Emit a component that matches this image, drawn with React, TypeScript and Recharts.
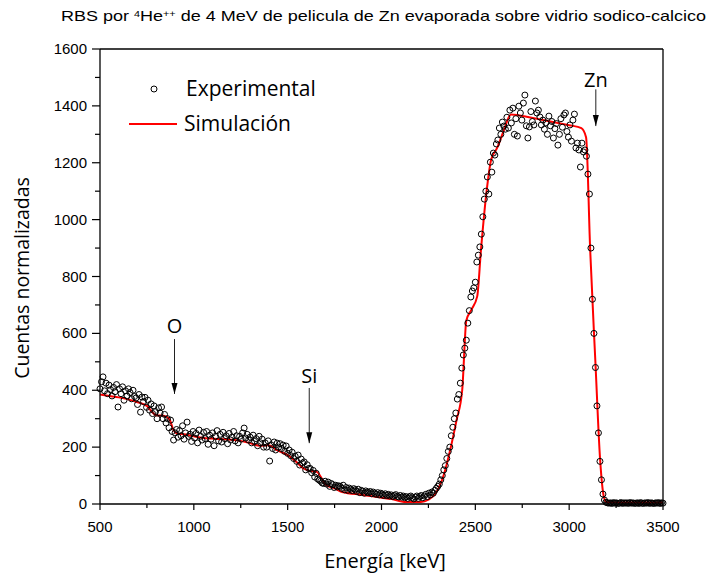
import {
  ComposedChart,
  Scatter,
  Line,
  XAxis,
  YAxis,
  ReferenceLine,
} from 'recharts'

// canal -> energía: primer canal 500 keV, 8 keV por canal
const E_START = 500
const KEV_PER_CH = 8

// cuentas experimentales normalizadas (una fila = 10 canales = 80 keV)
const cuentasExp = [
  405, 430, 447, 398, 425, 388, 418, 402, 380, 410, // 500
  395, 420, 341, 405, 388, 412, 365, 398, 380, 405, // 580
  392, 370, 400, 378, 373, 350, 385, 323, 376, 360, // 660
  375, 340, 365, 330, 352, 318, 345, 325, 300, 338, // 740
  320, 341, 300, 315, 285, 300, 268, 295, 255, 225, // 820
  250, 262, 235, 258, 240, 275, 228, 250, 288, 238, // 900
  245, 220, 255, 232, 248, 215, 260, 238, 225, 252, // 980
  230, 255, 210, 242, 228, 250, 205, 238, 258, 222, // 1060
  245, 218, 252, 230, 240, 212, 248, 225, 235, 255, // 1140
  222, 240, 215, 238, 228, 250, 267, 232, 245, 225, // 1220
  235, 215, 242, 220, 230, 205, 238, 215, 228, 200, // 1300
  215, 200, 222, 151, 208, 195, 218, 190, 214, 200, // 1380
  212, 195, 207, 185, 204, 178, 190, 170, 182, 160, // 1460
  168, 150, 172, 137, 158, 144, 148, 120, 138, 125, // 1540
  125, 110, 118, 95, 108, 88, 84, 80, 74, 72, // 1620
  80, 70, 77, 62, 72, 68, 58, 66, 60, 64, // 1700
  62, 55, 66, 50, 58, 48, 56, 52, 47, 54, // 1780
  50, 44, 52, 40, 48, 45, 38, 46, 42, 40, // 1860
  44, 36, 42, 38, 34, 40, 32, 38, 35, 30, // 1940
  36, 30, 34, 28, 32, 26, 30, 33, 27, 25, // 2020
  30, 24, 28, 22, 26, 20, 25, 28, 22, 18, // 2100
  24, 28, 20, 26, 30, 22, 28, 34, 26, 38, // 2180
  32, 42, 38, 48, 55, 62, 70, 85, 100, 120, // 2260
  135, 160, 185, 200, 240, 270, 300, 320, 369, 385, // 2340
  425, 478, 524, 548, 576, 636, 680, 728, 749, 760, // 2420
  780, 851, 875, 904, 949, 1010, 1072, 1100, 1150, 1090, // 2500
  1202, 1167, 1234, 1227, 1266, 1280, 1322, 1300, 1343, 1329, // 2580
  1318, 1360, 1322, 1385, 1340, 1392, 1300, 1355, 1294, 1399, // 2660
  1375, 1350, 1410, 1438, 1330, 1287, 1326, 1380, 1345, 1333, // 2740
  1417, 1375, 1385, 1361, 1333, 1350, 1318, 1340, 1300, 1364, // 2820
  1330, 1345, 1287, 1320, 1338, 1262, 1300, 1355, 1325, 1368, // 2900
  1375, 1310, 1290, 1333, 1276, 1350, 1371, 1252, 1269, 1245, // 2980
  1185, 1269, 1238, 1245, 1223, 1160, 1090, 900, 720, 600, // 3060
  480, 345, 250, 150, 85, 35, 14, 6, 4, 3, // 3140
  4, 2, 5, 3, 4, 2, 3, 5, 2, 4, // 3220
  3, 4, 2, 5, 3, 4, 2, 3, 4, 2, // 3300
  5, 3, 2, 4, 3, 5, 2, 4, 3, 2, // 3380
  4, 3, 5, 2, 4, 3, // 3460
]

// simulación [keV, cuentas]
const simulacion: [number, number][] = [
  [500, 385], [550, 380], [600, 375], [650, 368], [700, 358], [750, 345],
  [780, 322], [800, 312], [840, 310], [870, 298], [890, 262], [910, 248],
  [950, 245], [1000, 238], [1050, 232], [1100, 230], [1150, 228], [1200, 226],
  [1250, 222], [1300, 214], [1350, 205], [1400, 207], [1440, 190], [1500, 172],
  [1550, 146], [1580, 127], [1610, 118], [1655, 113], [1705, 67], [1750, 55],
  [1790, 42], [1900, 32], [2000, 22], [2050, 18], [2100, 10], [2130, 7],
  [2210, 7], [2250, 15], [2290, 39], [2335, 109], [2366, 190], [2400, 295],
  [2430, 400], [2452, 645], [2478, 682], [2510, 730], [2530, 893], [2560, 1100],
  [2584, 1210], [2616, 1252], [2650, 1310], [2690, 1370], [2800, 1358],
  [2900, 1345], [3000, 1332], [3065, 1322], [3090, 1290], [3112, 893],
  [3140, 496], [3165, 155], [3185, 25], [3200, 6], [3350, 5], [3500, 5],
]

// flechas: elemento, energía, altura del texto, inicio y punta de la flecha
const anotaciones = [
  { label: 'O', e: 897, labelY: 601, top: 580, tip: 387 },
  { label: 'Si', e: 1615, labelY: 425, top: 408, tip: 214 },
  { label: 'Zn', e: 3142, labelY: 1466, top: 1458, tip: 1329 },
]

const xTicks = [500, 750, 1000, 1250, 1500, 1750, 2000, 2250, 2500, 2750, 3000, 3250, 3500]
const yTicks = [0, 100, 200, 300, 400, 500, 600, 700, 800, 900, 1000, 1100, 1200, 1300, 1400, 1500, 1600]

const expData = cuentasExp.map((c, i) => ({ e: E_START + i * KEV_PER_CH, c }))
const simData = simulacion.map(([e, c]) => ({ e, c }))
const tipData = anotaciones.map((a) => ({ e: a.e, c: a.tip }))
const labelData = anotaciones.map((a) => ({ e: a.e, c: a.labelY, label: a.label }))

const TICK_FONT = '"Liberation Sans", Arial, sans-serif'
const LABEL_FONT = '"Open Sans", "Noto Sans", sans-serif'

const BottomTick = (props: any) => {
  const { x, y, payload } = props
  const major = payload.value % 500 === 0
  return (
    <g>
      <line x1={x} x2={x} y1={y} y2={y + (major ? 6 : 4)} stroke="#000" strokeWidth={1.2} />
      {major && (
        <text x={x} y={y + 28} textAnchor="middle" fontSize={15} fontFamily={TICK_FONT} fill="#000">
          {payload.value}
        </text>
      )}
    </g>
  )
}

const TopTick = (props: any) => {
  const { x, y, payload } = props
  const major = payload.value % 500 === 0
  return <line x1={x} x2={x} y1={y} y2={y + (major ? 6 : 5)} stroke="#000" strokeWidth={1.2} />
}

const LeftTick = (props: any) => {
  const { x, y, payload } = props
  const major = payload.value % 200 === 0
  return (
    <g>
      <line x1={x - (major ? 8 : 5)} x2={x} y1={y} y2={y} stroke="#000" strokeWidth={1.2} />
      {major && (
        <text x={x - 13} y={y + 5} textAnchor="end" fontSize={15} fontFamily={TICK_FONT} fill="#000">
          {payload.value}
        </text>
      )}
    </g>
  )
}

const RightTick = (props: any) => {
  const { x, y, payload } = props
  const major = payload.value % 200 === 0
  return <line x1={x - (major ? 8 : 4)} x2={x} y1={y} y2={y} stroke="#000" strokeWidth={1.2} />
}

const Circulo = (props: any) => (
  <circle cx={props.cx} cy={props.cy} r={3} fill="none" stroke="#000" strokeWidth={1} />
)

const Punta = (props: any) => {
  const { cx, cy } = props
  return <polygon points={`${cx - 3},${cy - 11} ${cx + 3},${cy - 11} ${cx},${cy}`} fill="#000" />
}

const Etiqueta = (props: any) => (
  <text x={props.cx} y={props.cy} textAnchor="middle" fontSize={20} fontFamily={LABEL_FONT} fill="#000">
    {props.payload.label}
  </text>
)

const axisLine = { stroke: '#000', strokeWidth: 1.3 }

export default function App() {
  return (
    <div style={{ position: 'relative', width: 700, height: 569 }}>
      <ComposedChart width={700} height={569} margin={{ top: 40, right: 44, bottom: 33, left: 32 }}>
        <XAxis
          xAxisId={0}
          type="number"
          dataKey="e"
          domain={[500, 3500]}
          ticks={xTicks}
          interval={0}
          height={40}
          tickSize={0}
          tickMargin={0}
          tickLine={false}
          axisLine={axisLine}
          tick={<BottomTick />}
        />
        <XAxis
          xAxisId="top"
          orientation="top"
          type="number"
          dataKey="e"
          domain={[500, 3500]}
          ticks={xTicks}
          interval={0}
          height={1}
          tickSize={0}
          tickMargin={0}
          tickLine={false}
          axisLine={axisLine}
          tick={<TopTick />}
        />
        <YAxis
          yAxisId={0}
          type="number"
          dataKey="c"
          domain={[0, 1600]}
          ticks={yTicks}
          interval={0}
          width={60}
          tickSize={0}
          tickMargin={0}
          tickLine={false}
          axisLine={axisLine}
          tick={<LeftTick />}
        />
        <YAxis
          yAxisId="right"
          orientation="right"
          type="number"
          domain={[0, 1600]}
          ticks={yTicks}
          interval={0}
          width={1}
          tickSize={0}
          tickMargin={0}
          tickLine={false}
          axisLine={axisLine}
          tick={<RightTick />}
        />
        <Scatter data={expData} dataKey="c" shape={<Circulo />} isAnimationActive={false} />
        <Line
          data={simData}
          dataKey="c"
          type="monotone"
          stroke="#ff0000"
          strokeWidth={2}
          dot={false}
          activeDot={false}
          isAnimationActive={false}
        />
        {anotaciones.map((a) => (
          <ReferenceLine
            key={a.label}
            segment={[{ x: a.e, y: a.top }, { x: a.e, y: a.tip }]}
            stroke="#222"
            strokeWidth={1}
          />
        ))}
        <Scatter data={tipData} dataKey="c" shape={<Punta />} isAnimationActive={false} />
        <Scatter data={labelData} dataKey="c" shape={<Etiqueta />} isAnimationActive={false} />
      </ComposedChart>
      <svg
        width={700}
        height={569}
        style={{ position: 'absolute', left: 0, top: 0, pointerEvents: 'none' }}
      >
        <text
          x={53}
          y={13}
          fontSize={15}
          fontFamily={TICK_FONT}
          fill="#000"
          textLength={645}
          lengthAdjust="spacingAndGlyphs"
        >
          RBS por <tspan fontSize={9} dy={-4}>4</tspan>
          <tspan dy={4}>He</tspan>
          <tspan fontSize={9} dy={-4}>++</tspan>
          <tspan dy={4}> de 4 MeV de pelicula de Zn evaporada sobre vidrio sodico-calcico</tspan>
        </text>
        <text
          transform="translate(21,270) rotate(-90)"
          textAnchor="middle"
          fontSize={19.5}
          fontFamily={LABEL_FONT}
          fill="#000"
        >
          Cuentas normalizadas
        </text>
        <text x={377} y={560} textAnchor="middle" fontSize={20} fontFamily={LABEL_FONT} fill="#000">
          Energía [keV]
        </text>
        <circle cx={146} cy={81} r={3} fill="none" stroke="#000" strokeWidth={1} />
        <text x={178} y={88} fontSize={21} fontFamily={LABEL_FONT} fill="#000">
          Experimental
        </text>
        <line x1={121} x2={169} y1={116} y2={116} stroke="#ff0000" strokeWidth={2} />
        <text x={176} y={123} fontSize={21} fontFamily={LABEL_FONT} fill="#000">
          Simulación
        </text>
      </svg>
    </div>
  )
}
